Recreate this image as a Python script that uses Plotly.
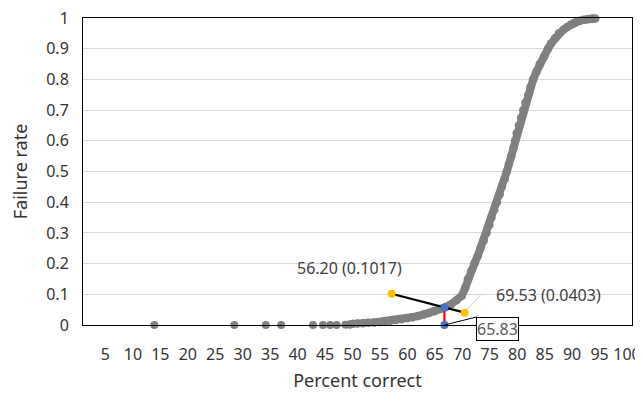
import plotly.graph_objects as go

# Sparse low-score points (on the axis)
sparse_x = [12.99, 27.56, 33.3, 36.1, 41.9, 43.7, 45.0, 46.2, 47.8]
sparse_y = [0.0, 0.0, 0.0, 0.0, 0.0, 0.0, 0.0, 0.0, 0.001]

# Dense cumulative curve
curve_x = [48.6, 49.2, 50.0, 51.0, 52.0, 53.0, 54.0, 55.0, 56.0, 57.0, 58.0, 59.0,
           60.0, 61.0, 62.0, 63.0, 64.0, 65.0, 66.0, 67.0, 68.0, 69.0, 69.6, 70.1,
           70.7, 71.3, 71.9, 72.4, 73.0, 73.5, 74.0, 74.4, 74.9, 75.4, 75.9, 76.3,
           76.8, 77.2, 77.6, 78.0, 78.4, 78.7, 79.0, 79.4, 79.8, 80.2, 80.6, 81.1,
           81.5, 82.0, 82.6, 83.2, 84.0, 84.7, 85.3, 86.0, 86.7, 87.5, 88.2, 88.8,
           89.4, 89.9, 90.5, 91.2, 91.8, 92.3, 92.8, 93.3]
curve_y = [0.002, 0.004, 0.005, 0.006, 0.007, 0.008, 0.010, 0.012, 0.014, 0.016, 0.019, 0.022,
           0.025, 0.029, 0.034, 0.039, 0.045, 0.051, 0.058, 0.067, 0.080, 0.095, 0.120, 0.150,
           0.175, 0.200, 0.225, 0.250, 0.275, 0.300, 0.325, 0.350, 0.375, 0.400, 0.425, 0.450,
           0.475, 0.500, 0.525, 0.550, 0.575, 0.600, 0.625, 0.650, 0.675, 0.700, 0.725, 0.750,
           0.775, 0.800, 0.825, 0.850, 0.875, 0.900, 0.918, 0.935, 0.950, 0.962, 0.971, 0.978,
           0.984, 0.988, 0.991, 0.994, 0.996, 0.997, 0.998, 0.998]

# Highlighted points
seg_x = [56.20, 69.53]
seg_y = [0.1017, 0.0403]
cut_x = 65.83
cut_y = seg_y[0] + (cut_x - seg_x[0]) / (seg_x[1] - seg_x[0]) * (seg_y[1] - seg_y[0])

x_ticks = list(range(5, 101, 5))
x_tick_text = [str(v) for v in x_ticks]
y_ticks = [0, 0.1, 0.2, 0.3, 0.4, 0.5, 0.6, 0.7, 0.8, 0.9, 1]
y_tick_text = ["0", "0.1", "0.2", "0.3", "0.4", "0.5", "0.6", "0.7", "0.8", "0.9", "1"]

GRAY = "#808080"
FONT = "Noto Sans"

fig = go.Figure()
fig.add_trace(go.Scatter(x=sparse_x, y=sparse_y, mode="markers",
                         marker=dict(color=GRAY, size=8), cliponaxis=False, hoverinfo="skip"))
fig.add_trace(go.Scatter(x=curve_x, y=curve_y, mode="lines+markers",
                         line=dict(color=GRAY, width=8),
                         marker=dict(color=GRAY, size=8.5), cliponaxis=False, hoverinfo="skip"))
# black connecting segment
fig.add_trace(go.Scatter(x=seg_x, y=seg_y, mode="lines", line=dict(color="black", width=2.2),
                         cliponaxis=False, hoverinfo="skip"))
# red vertical
fig.add_trace(go.Scatter(x=[cut_x, cut_x], y=[0, cut_y], mode="lines",
                         line=dict(color="#FF0000", width=2.2), cliponaxis=False, hoverinfo="skip"))
# yellow points
fig.add_trace(go.Scatter(x=seg_x, y=seg_y, mode="markers",
                         marker=dict(color="#FFC000", size=8), cliponaxis=False, hoverinfo="skip"))
# blue points
fig.add_trace(go.Scatter(x=[cut_x, cut_x], y=[cut_y, 0], mode="markers",
                         marker=dict(color="#4472C4", size=8), cliponaxis=False, hoverinfo="skip"))

# labels
fig.add_annotation(x=seg_x[0], y=seg_y[0], text=f"{seg_x[0]:.2f} ({seg_y[0]:.4f})",
                   showarrow=False, xanchor="center", yanchor="bottom", yshift=13, xshift=-42,
                   font=dict(family=FONT, size=16, color="#404040"))
fig.add_annotation(x=seg_x[1], y=seg_y[1], ax=16, ay=-18, axref="pixel", ayref="pixel",
                   text=f"{seg_x[1]:.2f} ({seg_y[1]:.4f})", showarrow=True, arrowhead=0,
                   arrowwidth=0.8, arrowcolor="#BFBFBF", xanchor="left", yanchor="middle",
                   borderpad=14, standoff=4, font=dict(family=FONT, size=16, color="#404040"))
fig.add_annotation(x=cut_x, y=0, ax=32, ay=-8, axref="pixel", ayref="pixel",
                   text=f"{cut_x:.2f}", showarrow=True, arrowhead=0, arrowwidth=1,
                   arrowcolor="black", xanchor="left", yanchor="top",
                   bordercolor="black", borderwidth=1, borderpad=0, bgcolor="white",
                   font=dict(family=FONT, size=16, color="#595959"))

# page body has an 8px margin: figure is sized to fit the 643x393 window
fig.update_layout(
    width=635, height=385,
    margin=dict(l=75, r=11, t=10, b=68),
    paper_bgcolor="white", plot_bgcolor="white",
    showlegend=False,
    font=dict(family=FONT, size=16, color="#333333"),
    xaxis=dict(range=[0, 100], tickvals=x_ticks, ticktext=x_tick_text, tickangle=0,
               showgrid=False, zeroline=False, showline=True, linecolor="black",
               linewidth=1, mirror=True, ticks="outside", ticklen=15,
               tickcolor="rgba(0,0,0,0)", automargin=False, ticklabeloverflow="allow",
               ticklabelshift=-5,
               title=dict(text="Percent correct", font=dict(size=18), standoff=10),
               tickfont=dict(size=16)),
    yaxis=dict(range=[0, 1], tickvals=y_ticks, ticktext=y_tick_text,
               showgrid=True, gridcolor="#D9D9D9", gridwidth=1, zeroline=False,
               showline=True, linecolor="black", linewidth=1, mirror=True,
               ticks="outside", ticklen=10, tickcolor="rgba(0,0,0,0)", automargin=False,
               ticklabeloverflow="allow",
               title=dict(text="Failure rate", font=dict(size=18), standoff=15),
               tickfont=dict(size=16)),
)

fig.write_html("out.html")
